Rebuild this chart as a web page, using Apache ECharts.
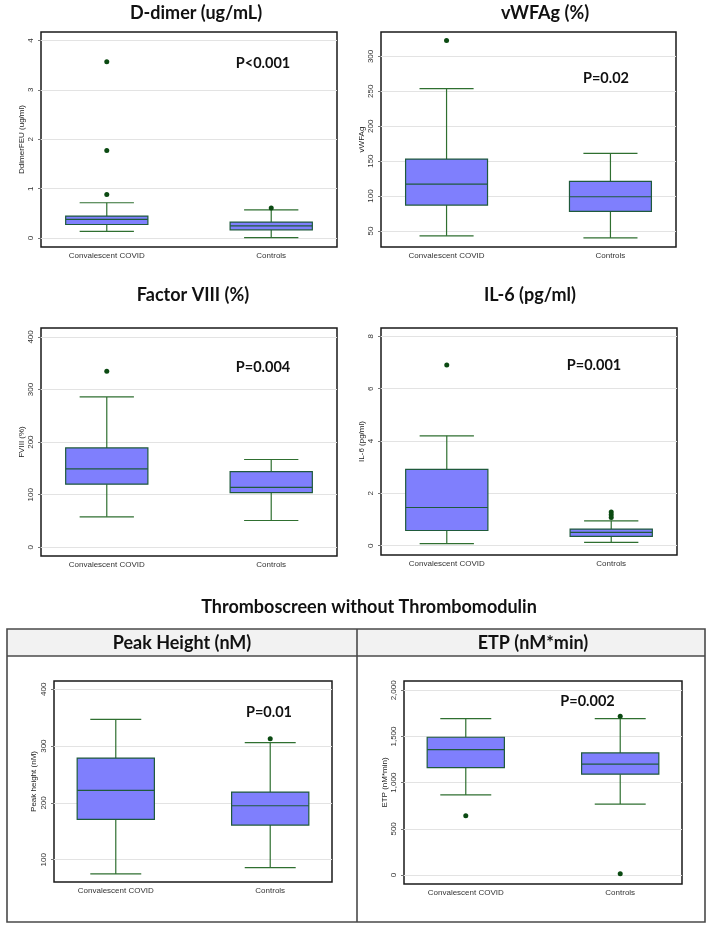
<!DOCTYPE html>
<html>
<head>
<meta charset="utf-8">
<script src="https://cdn.jsdelivr.net/npm/echarts@6/dist/echarts.min.js"></script>
<style>
html,body{margin:0;padding:0;background:#fff;}
#chart{width:709px;height:929px;}
</style>
</head>
<body>
<div id="chart"></div>
<script>
// ---------- data ----------
const categories = ['Convalescent COVID', 'Controls'];

// box stats per group: [lowerWhisker, Q1, median, Q3, upperWhisker]
const ddimerBox = [[0.135, 0.275, 0.377, 0.445, 0.715], [0.01, 0.168, 0.249, 0.324, 0.57]];
const ddimerOut = [[0, 3.57], [0, 1.77], [0, 0.88], [1, 0.61]];
const ddimerTicks = [0, 1, 2, 3, 4];

const vwfBox = [[43, 87, 117, 153, 254], [40, 78, 99, 121, 161]];
const vwfOut = [[0, 323]];
const vwfTicks = [50, 100, 150, 200, 250, 300];

const f8Box = [[58, 120, 149, 189, 286], [51, 104, 114, 144, 167]];
const f8Out = [[0, 335]];
const f8Ticks = [0, 100, 200, 300, 400];

const il6Box = [[0.08, 0.58, 1.46, 2.92, 4.2], [0.126, 0.354, 0.507, 0.636, 0.95]];
const il6Out = [[0, 6.91], [1, 1.29], [1, 1.18], [1, 1.08]];
const il6Ticks = [0, 2, 4, 6, 8];

const peakBox = [[75, 171, 222, 279, 347], [86, 161, 195, 219, 306]];
const peakOut = [[1, 313]];
const peakTicks = [100, 200, 300, 400];

const etpBox = [[868, 1164, 1359, 1492, 1694], [768, 1092, 1200, 1322, 1694]];
const etpOut = [[0, 641], [1, 1719], [1, 14]];
const etpTicks = [0, 500, 1000, 1500, 2000];

const panelTitles = ['D-dimer (ug/mL)', 'vWFAg (%)', 'Factor VIII (%)', 'IL-6 (pg/ml)', 'Peak Height (nM)', 'ETP (nM*min)'];
const axisNames = ['DdimerFEU (ug/ml)', 'vWFAg', 'FVIII (%)', 'IL-6 (pg/ml)', 'Peak height (nM)', 'ETP (nM*min)'];
const pValues = ['P<0.001', 'P=0.02', 'P=0.004', 'P=0.001', 'P=0.01', 'P=0.002'];
const sectionTitle = 'Thromboscreen without Thrombomodulin';

// ---------- layout ----------
const panels = [
  {box: ddimerBox, out: ddimerOut, ticks: ddimerTicks, min: -0.18, max: 4.17, grid: {left: 41, top: 32, width: 296, height: 215}, gap: 15, title: [196, 13], p: [263, 63]},
  {box: vwfBox, out: vwfOut, ticks: vwfTicks, min: 27, max: 335, grid: {left: 381, top: 32, width: 295, height: 215}, gap: 15, title: [545, 13], p: [606, 78]},
  {box: f8Box, out: f8Out, ticks: f8Ticks, min: -16.5, max: 417, grid: {left: 41, top: 328, width: 296, height: 228}, gap: 15, title: [193, 295], p: [263, 367]},
  {box: il6Box, out: il6Out, ticks: il6Ticks, min: -0.356, max: 8.32, grid: {left: 381, top: 328, width: 296, height: 227}, gap: 15, title: [530, 295], p: [594, 365]},
  {box: peakBox, out: peakOut, ticks: peakTicks, min: 60.8, max: 414.6, grid: {left: 54, top: 681, width: 278, height: 201}, gap: 16, title: [182, 643], p: [269, 712]},
  {box: etpBox, out: etpOut, ticks: etpTicks, min: -97, max: 2101, grid: {left: 404, top: 681, width: 278, height: 203}, gap: 14, title: [533, 643], p: [604, 701], comma: true, pBg: true}
];

const BOX_W = 0.5, CAP_RATIO = 0.66;
const FILL = '#7f7ffd', BOX_STROKE = '#1f5a3c', WHISK = '#2f6f30', DOT = '#0b4a12';

function boxRender(params, api) {
  const x = api.value(0);
  const pLo = api.coord([x, api.value(1)]);
  const pQ1 = api.coord([x, api.value(2)]);
  const pMed = api.coord([x, api.value(3)]);
  const pQ3 = api.coord([x, api.value(4)]);
  const pHi = api.coord([x, api.value(5)]);
  const bw = api.size([BOX_W, 0])[0];
  const cw = bw * CAP_RATIO;
  const cx = pLo[0];
  const ln = (x1, y1, x2, y2, c) => ({type: 'line', shape: {x1, y1, x2, y2}, style: {stroke: c, lineWidth: 1.2}});
  return {type: 'group', children: [
    ln(cx, pQ3[1], cx, pHi[1], WHISK),
    ln(cx, pQ1[1], cx, pLo[1], WHISK),
    ln(cx - cw / 2, pHi[1], cx + cw / 2, pHi[1], WHISK),
    ln(cx - cw / 2, pLo[1], cx + cw / 2, pLo[1], WHISK),
    {type: 'rect', shape: {x: cx - bw / 2, y: pQ3[1], width: bw, height: pQ1[1] - pQ3[1]}, style: {fill: FILL, stroke: BOX_STROKE, lineWidth: 1.2}},
    ln(cx - bw / 2, pMed[1], cx + bw / 2, pMed[1], BOX_STROKE)
  ]};
}

const grids = [], xAxes = [], yAxes = [], series = [], graphics = [];
panels.forEach((p, i) => {
  grids.push(Object.assign({show: true, borderColor: '#1a1a1a', borderWidth: 1.5, backgroundColor: '#fff'}, p.grid));
  xAxes.push({
    type: 'value', gridIndex: i, min: 0.6, max: 2.4,
    axisLine: {show: false}, axisTick: {show: false}, splitLine: {show: false},
    axisLabel: {customValues: [1, 2], formatter: v => categories[Math.round(v) - 1], fontSize: 8, color: '#333', margin: 5, fontFamily: 'Liberation Sans'}
  });
  yAxes.push({
    type: 'value', gridIndex: i, min: p.min, max: p.max,
    name: axisNames[i], nameLocation: 'middle', nameGap: p.gap,
    nameTextStyle: {fontSize: 8, color: '#222', fontFamily: 'Liberation Sans'},
    axisLine: {show: false},
    axisTick: {show: true, length: 3, customValues: p.ticks, lineStyle: {color: '#777'}},
    axisLabel: {customValues: p.ticks, rotate: 90, fontSize: 8, color: '#333', margin: 6, fontFamily: 'Liberation Sans',
      formatter: v => p.comma ? v.toLocaleString('en-US') : String(v)},
    splitLine: {show: true, lineStyle: {color: '#e3e3e3', width: 1}}
  });
  series.push({
    type: 'custom', xAxisIndex: i, yAxisIndex: i, renderItem: boxRender, z: 3,
    data: p.box.map((b, k) => [k + 1].concat(b))
  });
  series.push({
    type: 'scatter', xAxisIndex: i, yAxisIndex: i, symbolSize: 5, z: 4,
    itemStyle: {color: DOT, opacity: 1},
    data: p.out.map(o => [o[0] + 1, o[1]])
  });
  graphics.push({type: 'text', x: p.title[0], y: p.title[1], z: 10,
    style: {text: panelTitles[i], fontSize: 18, fontWeight: 'bold', fontFamily: 'Lato', fill: '#111', align: 'center', verticalAlign: 'middle'}});
  const pStyle = {text: pValues[i], fontSize: 14.5, fontWeight: 'bold', fontFamily: 'Lato', fill: '#111', align: 'center', verticalAlign: 'middle'};
  if (p.pBg) { pStyle.backgroundColor = '#fff'; pStyle.padding = [2, 43, 2, 10]; }
  graphics.push({type: 'text', x: p.p[0], y: p.p[1], z: 20, style: pStyle});
});

// section title and table frame
graphics.push({type: 'text', x: 369, y: 607, z: 10,
  style: {text: sectionTitle, fontSize: 18, fontWeight: 'bold', fontFamily: 'Lato', fill: '#111', align: 'center', verticalAlign: 'middle'}});
graphics.push({type: 'rect', shape: {x: 7, y: 629, width: 698, height: 27}, style: {fill: '#f2f2f2'}, z: 1});
graphics.push({type: 'rect', shape: {x: 7, y: 629, width: 698, height: 293}, style: {fill: 'none', stroke: '#4a4a4a', lineWidth: 1.6}, z: 5});
graphics.push({type: 'line', shape: {x1: 7, y1: 656, x2: 705, y2: 656}, style: {stroke: '#4a4a4a', lineWidth: 1.6}, z: 5});
graphics.push({type: 'line', shape: {x1: 357, y1: 629, x2: 357, y2: 922}, style: {stroke: '#4a4a4a', lineWidth: 1.6}, z: 5});

const chart = echarts.init(document.getElementById('chart'), null, {renderer: 'canvas'});
chart.setOption({
  animation: false,
  backgroundColor: '#fff',
  grid: grids, xAxis: xAxes, yAxis: yAxes, series: series,
  graphic: {elements: graphics}
});
</script>
</body>
</html>
